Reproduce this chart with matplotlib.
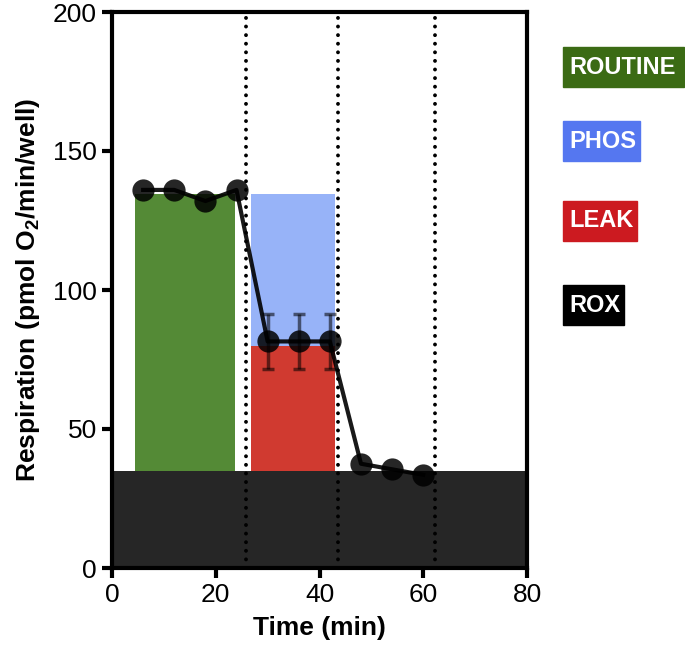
import matplotlib
matplotlib.use("Agg")
import matplotlib.pyplot as plt
from matplotlib.patches import Rectangle

plt.rcParams["font.family"] = ["Liberation Sans", "DejaVu Sans"]
plt.rcParams["mathtext.fontset"] = "custom"
plt.rcParams["mathtext.rm"] = "Liberation Sans"
plt.rcParams["mathtext.bf"] = "Liberation Sans:bold"

# measured respiration over time
time = [6, 12, 18, 24, 30, 36, 42, 48, 54, 60]
resp = [136, 136, 132, 136, 81.5, 81.5, 81.5, 37.5, 35.5, 33.5]
err = [0, 0, 0, 0, 10, 10, 10, 0, 0, 0]

# state blocks: name, start, end, level
states = ["ROUTINE", "PHOS", "LEAK"]
state_start = [4.5, 26.8, 26.8]
state_end = [23.8, 42.9, 42.9]
state_level = [134.5, 134.5, 80]
rox_level = 35

injections = [25.8, 43.5, 62.3]

bar_colors = ["#548a36", "#97b3f8", "#d03a30"]
label_colors = ["#3b6b14", "#5577f0", "#cc1a20", "#000000"]
label_names = ["ROUTINE", "PHOS", "LEAK", "ROX"]

fig = plt.figure(figsize=(6.85, 6.52), dpi=100)
ax = fig.add_axes([112 / 685, 1 - 568 / 652, 415 / 685, 556 / 652])

for s, e, lv, c in zip(state_start, state_end, state_level, bar_colors):
    ax.bar(s, lv, width=e - s, align="edge", color=c, zorder=1)
ax.bar(0, rox_level, width=80, align="edge", color="#262626", zorder=2)

for xv in injections:
    ax.axvline(xv, color="black", lw=2.8, dashes=(0.01, 2.2),
               dash_capstyle="round", zorder=3)

ax.plot(time, resp, color="black", lw=3, zorder=4, alpha=0.9)
mid = slice(4, 7)
ax.errorbar(time[mid], resp[mid], yerr=err[mid], fmt="none", ecolor="black",
            elinewidth=2.5, capsize=4, capthick=2.5, alpha=0.55, zorder=4)
ax.plot(time, resp, "o", color="black", ms=16, alpha=0.85, zorder=5,
        markeredgewidth=0)

ax.set_xlim(0, 80)
ax.set_ylim(0, 200)
ax.set_xticks([0, 20, 40, 60, 80])
ax.set_yticks([0, 50, 100, 150, 200])
for sp in ax.spines.values():
    sp.set_linewidth(3)
ax.tick_params(width=3, length=7, labelsize=19, pad=4)
ax.set_xlabel("Time (min)", fontsize=19, fontweight="bold", labelpad=6)
ax.set_ylabel(r"Respiration (pmol O$_\mathbf{2}$/min/well)", fontsize=19,
              fontweight="bold", labelpad=8)

# state labels on the right
box_left = 563
box_widths = [121, 77, 74, 61]
box_tops = [47, 121, 201, 285]
for name, col, w, top in zip(label_names, label_colors, box_widths, box_tops):
    fig.add_artist(Rectangle((box_left / 685, 1 - (top + 40) / 652), w / 685, 40 / 652,
                             transform=fig.transFigure, color=col))
    fig.text((box_left + 6) / 685, 1 - (top + 20) / 652, name, color="white",
             fontsize=17, fontweight="bold", va="center", ha="left")

fig.savefig("out.png", dpi=100)
